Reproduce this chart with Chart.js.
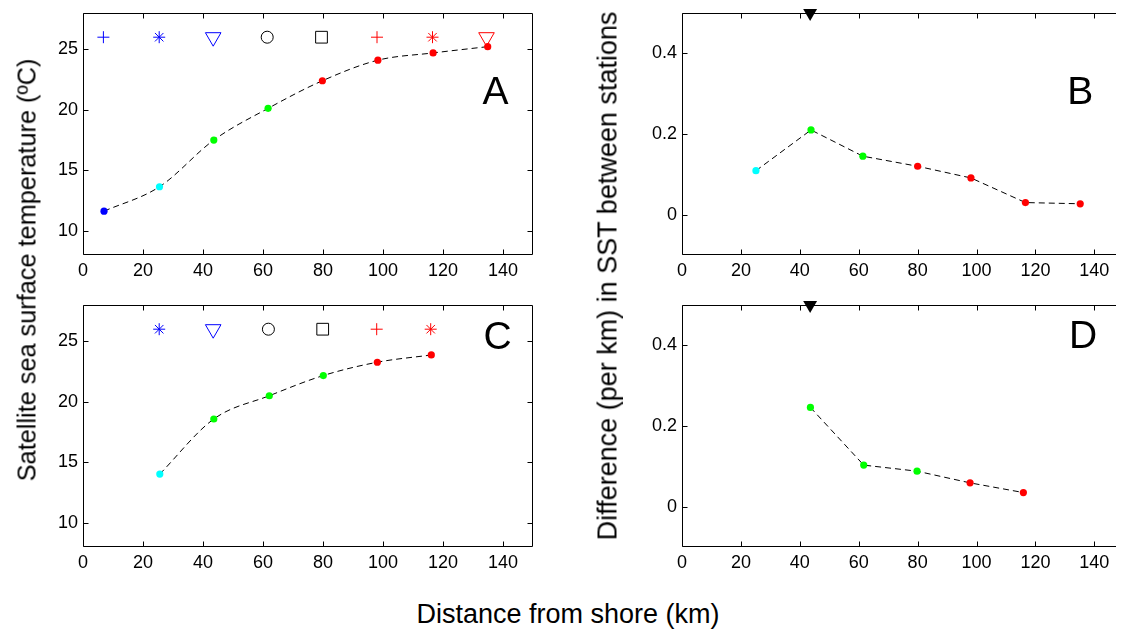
<!DOCTYPE html>
<html>
<head>
<meta charset="utf-8">
<script src="https://cdn.jsdelivr.net/npm/chart.js@4.4.1/dist/chart.umd.min.js"></script>
<style>
  html, body { margin: 0; padding: 0; background: #fff; overflow: hidden; width: 1122px; height: 632px; position: relative; }
  .panel { position: absolute; height: 290px; }
  .panel canvas { display: block; }
  .title { position: absolute; font-family: "Liberation Sans", Arial, sans-serif; font-size: 27px;
           line-height: 27px; color: #000; white-space: nowrap; transform: translate(-50%, -50%); }
  .rot { transform: translate(-50%, -50%) rotate(-90deg); }
</style>
</head>
<body>
<div class="panel" style="left:0px; top:0px; width:560px;"><canvas id="panelA" width="560" height="290"></canvas></div>
<div class="panel" style="left:600px; top:0px; width:522px;"><canvas id="panelB" width="522" height="290"></canvas></div>
<div class="panel" style="left:0px; top:292px; width:560px;"><canvas id="panelC" width="560" height="290"></canvas></div>
<div class="panel" style="left:600px; top:292px; width:522px;"><canvas id="panelD" width="522" height="290"></canvas></div>

<div class="title rot" style="left:27px; top:270px; font-size:25.3px; line-height:25px;">Satellite sea surface temperature (ºC)</div>
<div class="title rot" style="left:608px; top:276px;">Difference (per km) in SST between stations</div>
<div class="title" style="left:568px; top:614px;">Distance from shore (km)</div>

<script>
// ---- tick labels ----
const xTicks = [0, 20, 40, 60, 80, 100, 120, 140];
const sstTicks = [10, 15, 20, 25];
const diffTicks = [0, 0.2, 0.4];

// ---- panel A: SST at every station ----
const distA = [7.0, 25.5, 43.6, 61.7, 79.8, 98.3, 116.7, 134.9];
const sstA = [11.62, 13.64, 17.5, 20.12, 22.4, 24.1, 24.7, 25.22];
const stationColorsA = ['#0000ff', '#00ffff', '#00ff00', '#00ff00', '#ff0000', '#ff0000', '#ff0000', '#ff0000'];
const symbolDistA = [6.8, 25.4, 43.4, 61.4, 79.5, 98.0, 116.5, 134.5];
const symbolLevelA = [26, 26, 26, 26, 26, 26, 26, 26];
const symbolShapesA = ['cross', 'star', 'triangle', 'circle', 'rect', 'cross', 'star', 'triangle'];
const symbolColorsA = ['#0000ff', '#0000ff', '#0000ff', '#000000', '#000000', '#ff0000', '#ff0000', '#ff0000'];

// ---- panel B: SST gradient between neighbouring stations ----
const distB = [25.1, 43.8, 61.4, 80.0, 98.1, 116.6, 135.2];
const diffB = [0.109, 0.210, 0.145, 0.120, 0.091, 0.030, 0.027];
const stationColorsB = ['#00ffff', '#00ff00', '#00ff00', '#ff0000', '#ff0000', '#ff0000', '#ff0000'];

// ---- panel C: SST, second transect ----
const distC = [25.6, 43.6, 62.1, 80.1, 98.1, 116.1];
const sstC = [14.03, 18.58, 20.5, 22.17, 23.27, 23.87];
const stationColorsC = ['#00ffff', '#00ff00', '#00ff00', '#00ff00', '#ff0000', '#ff0000'];
const symbolDistC = [25.4, 43.4, 61.8, 79.9, 97.9, 115.9];
const symbolLevelC = [26, 26, 26, 26, 26, 26];
const symbolShapesC = ['star', 'triangle', 'circle', 'rect', 'cross', 'star'];
const symbolColorsC = ['#0000ff', '#0000ff', '#000000', '#000000', '#ff0000', '#ff0000'];

// ---- panel D: SST gradient, second transect ----
const distD = [43.6, 61.7, 79.8, 97.8, 115.9];
const diffD = [0.246, 0.103, 0.088, 0.059, 0.035];
const stationColorsD = ['#00ff00', '#00ff00', '#00ff00', '#ff0000', '#ff0000'];

// front position flagged on the gradient panels
const frontDist = [43.5];
const frontLevel = [0.5];

const FONT = '"Liberation Sans", Arial, sans-serif';
const zip = (xs, ys) => xs.map((x, i) => ({ x: x, y: ys[i] }));

// box with inward ticks on the sides, plus the panel letter
const framePlugin = {
  id: 'frame',
  beforeDatasetsDraw(chart, args, opts) {
    const { ctx, chartArea: a, scales: { x, y } } = chart;
    const L = Math.round(a.left) + 0.5, R = Math.round(a.right) - 0.5;
    const T = Math.round(a.top) + 0.5, B = Math.round(a.bottom) - 0.5;
    const len = 5;
    const closed = !opts.openRight;
    ctx.save();
    ctx.strokeStyle = '#000';
    ctx.lineWidth = 1;
    ctx.setLineDash([]);
    ctx.beginPath();
    if (closed) {
      ctx.rect(L, T, R - L, B - T);
    } else {
      // plot box continues past the page edge on the right
      ctx.moveTo(a.right + 2, T); ctx.lineTo(L, T); ctx.lineTo(L, B); ctx.lineTo(a.right + 2, B);
    }
    x.ticks.forEach(t => {
      const px = Math.round(x.getPixelForValue(t.value)) + 0.5;
      ctx.moveTo(px, B); ctx.lineTo(px, B - len);
      ctx.moveTo(px, T); ctx.lineTo(px, T + len);
    });
    y.ticks.forEach(t => {
      const py = Math.round(y.getPixelForValue(t.value)) + 0.5;
      ctx.moveTo(L, py); ctx.lineTo(L + len, py);
      if (closed) { ctx.moveTo(R, py); ctx.lineTo(R - len, py); }
    });
    ctx.stroke();
    ctx.restore();
  },
  afterDatasetsDraw(chart, args, opts) {
    if (!opts.text) return;
    const { ctx, scales: { x, y } } = chart;
    const size = 39;
    ctx.save();
    ctx.fillStyle = '#000';
    ctx.font = size + 'px ' + FONT;
    ctx.textAlign = 'center';
    ctx.textBaseline = 'alphabetic';
    ctx.fillText(opts.text, x.getPixelForValue(opts.x), y.getPixelForValue(opts.y) + size * 0.358);
    ctx.restore();
  }
};

function makePanel(id, cfg) {
  const datasets = [{
    data: zip(cfg.xs, cfg.ys),
    showLine: true,
    borderColor: '#000',
    borderWidth: 1,
    borderDash: [6, 4],
    cubicInterpolationMode: cfg.smooth ? 'monotone' : 'default',
    pointStyle: 'circle',
    pointRadius: 3.6,
    pointBorderWidth: 0,
    pointBackgroundColor: cfg.colors,
    order: 2
  }];
  if (cfg.symX) {
    datasets.push({
      data: zip(cfg.symX, cfg.symY),
      showLine: false,
      pointStyle: cfg.symShapes,
      pointRotation: cfg.symShapes.map(s => s === 'triangle' ? 180 : 0),
      pointRadius: cfg.symShapes.map(s => s === 'triangle' ? 9 : s === 'rect' ? 8.3 : 6),
      pointBorderWidth: 1,
      pointBorderColor: cfg.symColors,
      pointBackgroundColor: 'rgba(0,0,0,0)',
      clip: false,
      order: 1
    });
  }
  if (cfg.front) {
    datasets.push({
      data: zip(frontDist, frontLevel),
      showLine: false,
      pointStyle: 'triangle',
      pointRotation: 180,
      pointRadius: 8,
      pointBorderWidth: 0,
      pointBackgroundColor: '#000',
      clip: false,
      order: 0
    });
  }
  const tickFont = { family: FONT, size: 18 };
  return new Chart(document.getElementById(id), {
    type: 'scatter',
    data: { datasets },
    plugins: [framePlugin],
    options: {
      responsive: false,
      devicePixelRatio: 1,
      animation: false,
      events: [],
      layout: { padding: { left: 0, top: 13, right: cfg.padRight, bottom: 0 } },
      plugins: {
        legend: { display: false },
        tooltip: { enabled: false },
        frame: Object.assign({ openRight: !!cfg.openRight }, cfg.letter)
      },
      scales: {
        x: {
          type: 'linear', min: 0, max: cfg.xMax,
          afterBuildTicks: s => { s.ticks = xTicks.map(v => ({ value: v })); },
          afterFit: s => { s.height = 35; s.paddingLeft = 0; s.paddingRight = 0; },
          grid: { display: false, drawTicks: false },
          border: { display: false },
          ticks: { color: '#000', font: tickFont, padding: 5, maxRotation: 0, autoSkip: false,
                   callback: v => String(v) }
        },
        y: {
          type: 'linear', min: cfg.yMin, max: cfg.yMax,
          afterBuildTicks: s => { s.ticks = cfg.yTicks.map(v => ({ value: v })); },
          afterFit: s => { s.width = cfg.yWidth; s.paddingTop = 0; s.paddingBottom = 0; },
          grid: { display: false, drawTicks: false },
          border: { display: false },
          ticks: { color: '#000', font: tickFont, padding: 5, autoSkip: false,
                   callback: v => String(v) }
        }
      }
    }
  });
}

// the right-hand panels are cut by the page edge: their x range stops where the page ends
const xMaxLeft = 150;
const xMaxRight = 146.67;

makePanel('panelA', {
  xs: distA, ys: sstA, colors: stationColorsA, smooth: true,
  symX: symbolDistA, symY: symbolLevelA, symShapes: symbolShapesA, symColors: symbolColorsA,
  xMax: xMaxLeft, yMin: 8, yMax: 28, yTicks: sstTicks, yWidth: 83, padRight: 27,
  letter: { text: 'A', x: 137.5, y: 21.6 }
});
makePanel('panelB', {
  xs: distB, ys: diffB, colors: stationColorsB, smooth: false, front: true, openRight: true,
  xMax: xMaxRight, yMin: -0.1, yMax: 0.5, yTicks: diffTicks, yWidth: 82, padRight: 0,
  letter: { text: 'B', x: 135.2, y: 0.31 }
});
makePanel('panelC', {
  xs: distC, ys: sstC, colors: stationColorsC, smooth: true,
  symX: symbolDistC, symY: symbolLevelC, symShapes: symbolShapesC, symColors: symbolColorsC,
  xMax: xMaxLeft, yMin: 8, yMax: 28, yTicks: sstTicks, yWidth: 83, padRight: 27,
  letter: { text: 'C', x: 138.2, y: 25.55 }
});
makePanel('panelD', {
  xs: distD, ys: diffD, colors: stationColorsD, smooth: false, front: true, openRight: true,
  xMax: xMaxRight, yMin: -0.1, yMax: 0.5, yTicks: diffTicks, yWidth: 82, padRight: 0,
  letter: { text: 'D', x: 136.2, y: 0.428 }
});
</script>
</body>
</html>
